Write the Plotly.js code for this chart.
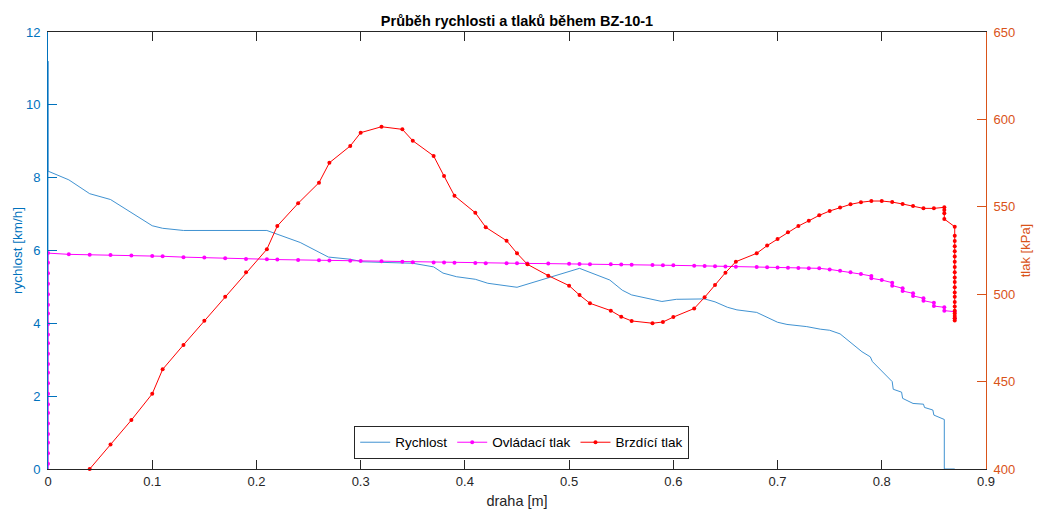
<!DOCTYPE html>
<html>
<head>
<meta charset="utf-8">
<script src="https://cdn.plot.ly/plotly-3.0.1.min.js"></script>
<style>html,body{margin:0;padding:0;background:#fff;}</style>
</head>
<body>
<div id="chart" style="width:1038px;height:513px;"></div>
<script>
// Rychlost [km/h] (left axis)
const speedX = [0, 0, 0, 0.02, 0.04, 0.06, 0.08, 0.10, 0.11, 0.13, 0.21, 0.242, 0.269, 0.29, 0.302, 0.35, 0.37, 0.379, 0.392, 0.41, 0.422, 0.45, 0.51, 0.539, 0.551, 0.56, 0.589, 0.603, 0.63, 0.64, 0.652, 0.661, 0.68, 0.70, 0.709, 0.728, 0.741, 0.75, 0.76, 0.781, 0.789, 0.791, 0.81, 0.811, 0.819, 0.82, 0.83, 0.84, 0.841, 0.849, 0.85, 0.86, 0.86, 0.87];
const speedY = [0, 11.2, 8.18, 7.94, 7.56, 7.4, 7.05, 6.68, 6.61, 6.55, 6.55, 6.22, 5.82, 5.76, 5.69, 5.65, 5.55, 5.38, 5.28, 5.21, 5.1, 4.99, 5.51, 5.19, 4.91, 4.78, 4.6, 4.66, 4.67, 4.59, 4.44, 4.37, 4.3, 4.03, 3.97, 3.91, 3.84, 3.81, 3.71, 3.22, 3.08, 2.95, 2.4, 2.19, 2.11, 1.94, 1.8, 1.78, 1.69, 1.62, 1.48, 1.36, 0, 0];

// Ovládací tlak [kPa] (right axis)
const ctrlX = [0, 0, 0, 0, 0, 0, 0, 0, 0, 0, 0, 0, 0, 0, 0, 0, 0, 0, 0, 0, 0, 0, 0,
  0.02, 0.04, 0.06, 0.08, 0.10, 0.11, 0.13, 0.15, 0.17, 0.19, 0.21, 0.22, 0.24, 0.26, 0.27, 0.29, 0.30, 0.32, 0.34, 0.35, 0.37, 0.38, 0.39, 0.41, 0.42, 0.44, 0.45, 0.46, 0.48, 0.50, 0.51, 0.52, 0.54, 0.55, 0.56, 0.58, 0.59, 0.60, 0.62, 0.63, 0.64, 0.65, 0.66, 0.68, 0.69, 0.70, 0.71, 0.72, 0.73, 0.74, 0.75, 0.76, 0.77, 0.78, 0.79, 0.79, 0.80, 0.81, 0.81, 0.82, 0.82, 0.83, 0.83, 0.84, 0.84, 0.85, 0.85, 0.86, 0.86, 0.87, 0.87];
const ctrlY = [398, 403, 409, 415, 420, 426, 432, 437, 443, 449, 455, 460, 466, 472, 477, 483, 489, 494, 500, 506, 512, 518, 523.5,
  522.8, 522.6, 522.4, 522.2, 521.9, 521.7, 521.2, 521.0, 520.6, 520.2, 520.0, 519.8, 519.6, 519.4, 519.3, 519.1, 519.0, 518.8, 518.5, 518.3, 518.2, 518.1, 518.0, 517.8, 517.7, 517.7, 517.7, 517.6, 517.5, 517.4, 517.3, 517.2, 517.1, 517.0, 516.9, 516.7, 516.6, 516.5, 516.3, 516.2, 516.0, 515.9, 515.7, 515.5, 515.4, 515.3, 515.2, 515.0, 514.9, 514.8, 514.2, 513.4, 512.5, 511.5, 510.4, 509.1, 508.1, 506.6, 504.9, 503.4, 501.8, 500.5, 499.0, 497.7, 496.3, 495.1, 493.2, 492.5, 490.6, 490.0, 486.2];

// Brzdící tlak [kPa] (right axis)
const brakeX = [0.04, 0.06, 0.08, 0.10, 0.11, 0.13, 0.15, 0.17, 0.19, 0.21, 0.22, 0.24, 0.26, 0.27, 0.29, 0.30, 0.32, 0.34, 0.35, 0.37, 0.38, 0.39, 0.41, 0.42, 0.44, 0.45, 0.46, 0.48, 0.50, 0.51, 0.52, 0.54, 0.55, 0.56, 0.58, 0.59, 0.60, 0.62, 0.63, 0.64, 0.65, 0.66, 0.68, 0.69, 0.70, 0.71, 0.72, 0.73, 0.74, 0.75, 0.76, 0.77, 0.78, 0.79, 0.80, 0.81, 0.82, 0.83, 0.84, 0.85, 0.86, 0.86, 0.86, 0.86,
  0.87, 0.87, 0.87, 0.87, 0.87, 0.87, 0.87, 0.87, 0.87, 0.87, 0.87, 0.87, 0.87, 0.87, 0.87, 0.87, 0.87, 0.87, 0.87, 0.87, 0.87];
const brakeY = [400, 414, 428, 443, 457, 471, 484.8, 498.6, 512.5, 525.7, 539, 552, 563.8, 575.2, 584.8, 592.4, 595.8, 594.3, 587.8, 579.1, 567.6, 556.3, 546.6, 538.3, 530.6, 523.4, 517.1, 510.6, 504.9, 499.5, 494.8, 490.6, 487.1, 484.7, 483.4, 484.1, 486.9, 491.8, 498.2, 505.3, 512.3, 518.6, 523.4, 527.8, 531.6, 535.4, 539, 542, 545.1, 547.6, 549.6, 551.4, 552.6, 553.3, 553.3, 552.7, 551.6, 550.5, 549.1, 549.1, 549.7, 548.2, 546.3, 543,
  538.6, 533.5, 530.5, 527.5, 524.5, 521.5, 518.5, 515.5, 512.5, 509.5, 507, 504, 501, 498.5, 495.5, 493, 490.5, 489, 487.5, 486.2, 485];

const xTicks = [0, 0.1, 0.2, 0.3, 0.4, 0.5, 0.6, 0.7, 0.8, 0.9];
const xTickText = ['0', '0.1', '0.2', '0.3', '0.4', '0.5', '0.6', '0.7', '0.8', '0.9'];
const yTicks = [0, 2, 4, 6, 8, 10, 12];
const y2Ticks = [400, 450, 500, 550, 600, 650];

const FONT = '"Liberation Sans", Arial, Helvetica, sans-serif';
const BLUE = '#0072BD';
const BLUE_LINE = '#2a86cc';
const ORANGE = '#D95319';
const GRAY = '#262626';

const traces = [
  {
    name: 'Rychlost', x: speedX, y: speedY, type: 'scatter', mode: 'lines',
    line: {color: BLUE_LINE, width: 0.9}, yaxis: 'y', cliponaxis: false
  },
  {
    name: 'Ovládací tlak', x: ctrlX, y: ctrlY, type: 'scatter', mode: 'lines+markers',
    line: {color: '#FF00FF', width: 1}, marker: {color: '#FF00FF', size: 4},
    yaxis: 'y2'
  },
  {
    name: 'Brzdící tlak', x: brakeX, y: brakeY, type: 'scatter', mode: 'lines+markers',
    line: {color: '#FF0000', width: 1}, marker: {color: '#FF0000', size: 4},
    yaxis: 'y2', cliponaxis: false
  }
];

const layout = {
  width: 1038, height: 513,
  margin: {l: 48, r: 52, t: 32, b: 44},
  paper_bgcolor: '#ffffff', plot_bgcolor: '#ffffff',
  font: {family: FONT, size: 13, color: GRAY},
  showlegend: true,
  title: {
    text: '<b>Průběh rychlosti a tlaků během BZ-10-1</b>',
    font: {family: FONT, size: 14.5, color: '#000000'},
    x: 0.5, xref: 'paper', xanchor: 'center', y: 1, yref: 'paper', yanchor: 'bottom',
    pad: {b: 6}
  },
  xaxis: {
    range: [0, 0.9], tickvals: xTicks, ticktext: xTickText,
    ticks: 'inside', ticklen: 9, tickcolor: GRAY, tickwidth: 1,
    showline: true, linecolor: GRAY, linewidth: 1, mirror: 'ticks',
    showgrid: false, zeroline: false,
    tickfont: {family: FONT, size: 13, color: GRAY},
    title: {text: 'draha [m]', font: {family: FONT, size: 14.5, color: GRAY}, standoff: 8}
  },
  yaxis: {
    range: [0, 12], tickvals: yTicks,
    ticks: 'inside', ticklen: 9, tickcolor: BLUE, tickwidth: 1,
    showline: true, linecolor: BLUE, linewidth: 1,
    showgrid: false, zeroline: false,
    tickfont: {family: FONT, size: 13, color: BLUE},
    ticklabelstandoff: 4,
    title: {text: 'rychlost [km/h]', font: {family: FONT, size: 13.5, color: BLUE}, standoff: 0}
  },
  yaxis2: {
    range: [400, 650], tickvals: y2Ticks, overlaying: 'y', side: 'right',
    ticks: 'inside', ticklen: 9, tickcolor: ORANGE, tickwidth: 1,
    showline: true, linecolor: ORANGE, linewidth: 1,
    showgrid: false, zeroline: false,
    tickfont: {family: FONT, size: 13, color: ORANGE},
    ticklabelstandoff: 4,
    title: {text: 'tlak [kPa]', font: {family: FONT, size: 13, color: ORANGE}, standoff: 6}
  },
  legend: {
    orientation: 'h', x: 0.505, xanchor: 'center', y: 0.023, yanchor: 'bottom',
    bgcolor: '#ffffff', bordercolor: GRAY, borderwidth: 1,
    font: {family: FONT, size: 13.5, color: '#000000'},
    itemwidth: 30, tracegroupgap: 0
  }
};

Plotly.newPlot('chart', traces, layout, {staticPlot: true, displayModeBar: false});
</script>
</body>
</html>
